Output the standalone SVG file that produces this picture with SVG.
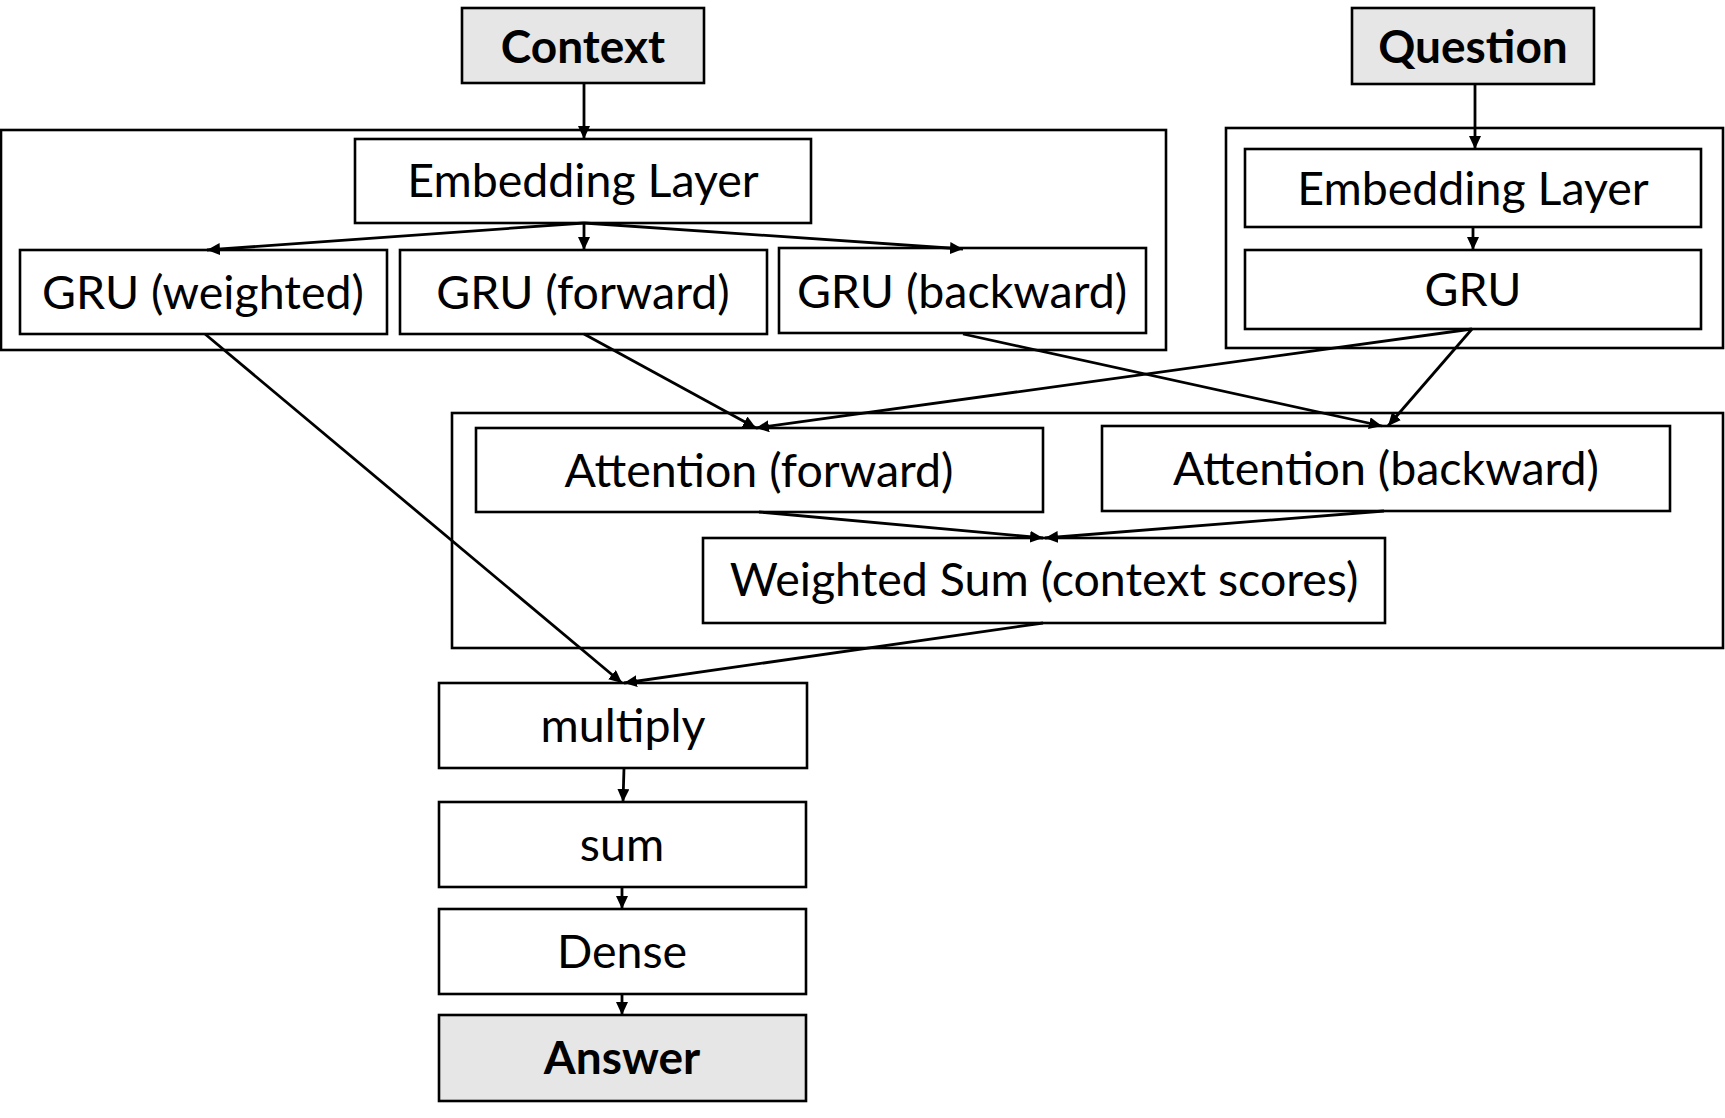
<svg xmlns="http://www.w3.org/2000/svg" width="1725" height="1118" viewBox="0 0 1725 1118">
<style>
.box{fill:#fff;stroke:#000;stroke-width:2.6}
.io{fill:#e6e6e6;stroke:#000;stroke-width:2.6}
.grp{fill:none;stroke:#000;stroke-width:2.6}
.t{font-family:Lato,"Open Sans","Noto Sans",sans-serif;font-size:46.5px;text-anchor:middle;fill:#000}
.b{font-family:Lato,"Open Sans","Noto Sans",sans-serif;font-size:46px;font-weight:bold;text-anchor:middle;fill:#000}
.c{stroke:#000;stroke-width:2.8;fill:none;marker-end:url(#ah)}
</style>
<defs>
<marker id="ah" markerUnits="userSpaceOnUse" markerWidth="14" markerHeight="12" refX="13" refY="6" orient="auto">
<path d="M0,0 L13,6 L0,12 Z" fill="#000"/>
</marker>
</defs>
<rect id="group-context" class="grp" x="1" y="130" width="1165" height="220"/>
<rect id="group-question" class="grp" x="1226" y="128" width="497" height="220"/>
<rect id="group-attention" class="grp" x="452" y="413" width="1271" height="235"/>
<g id="context"><rect class="io" x="462" y="8" width="242" height="75"/><text class="b" x="583" y="63">Context</text></g>
<g id="question"><rect class="io" x="1352" y="8" width="242" height="76"/><text class="b" x="1473" y="63">Question</text></g>
<g id="emb-c"><rect class="box" x="355" y="139" width="456" height="84"/><text class="t" x="583" y="197">Embedding Layer</text></g>
<g id="gru-w"><rect class="box" x="20" y="250" width="367" height="84"/><text class="t" x="203" y="309">GRU (weighted)</text></g>
<g id="gru-f"><rect class="box" x="400" y="250" width="367" height="84"/><text class="t" x="583" y="309">GRU (forward)</text></g>
<g id="gru-b"><rect class="box" x="779" y="248" width="367" height="85"/><text class="t" x="962" y="308">GRU (backward)</text></g>
<g id="emb-q"><rect class="box" x="1245" y="149" width="456" height="78"/><text class="t" x="1473" y="205">Embedding Layer</text></g>
<g id="gru-q"><rect class="box" x="1245" y="250" width="456" height="79"/><text class="t" x="1473" y="306">GRU</text></g>
<g id="att-f"><rect class="box" x="476" y="428" width="567" height="84"/><text class="t" x="759" y="487">Attention (forward)</text></g>
<g id="att-b"><rect class="box" x="1102" y="426" width="568" height="85"/><text class="t" x="1386" y="485">Attention (backward)</text></g>
<g id="wsum"><rect class="box" x="703" y="538" width="682" height="85"/><text class="t" x="1044" y="596">Weighted Sum (context scores)</text></g>
<g id="multiply"><rect class="box" x="439" y="683" width="368" height="85"/><text class="t" x="623" y="742">multiply</text></g>
<g id="sum"><rect class="box" x="439" y="802" width="367" height="85"/><text class="t" x="622" y="861">sum</text></g>
<g id="dense"><rect class="box" x="439" y="909" width="367" height="85"/><text class="t" x="622" y="968">Dense</text></g>
<g id="answer"><rect class="io" x="439" y="1015" width="367" height="86"/><text class="b" x="622" y="1074">Answer</text></g>
<g id="connectors">
<line class="c" x1="584" y1="83" x2="584" y2="139"/>
<line class="c" x1="584" y1="223" x2="207" y2="250"/>
<line class="c" x1="584" y1="223" x2="584" y2="250"/>
<line class="c" x1="584" y1="223" x2="963" y2="249"/>
<line class="c" x1="1475" y1="84" x2="1475" y2="149"/>
<line class="c" x1="1473" y1="227" x2="1473" y2="250"/>
<line class="c" x1="205" y1="334" x2="622" y2="683"/>
<line class="c" x1="584" y1="334" x2="756" y2="428"/>
<line class="c" x1="963" y1="334" x2="1382" y2="426"/>
<line class="c" x1="1472" y1="329" x2="756" y2="428"/>
<line class="c" x1="1472" y1="329" x2="1388" y2="426"/>
<line class="c" x1="759" y1="512" x2="1043" y2="538"/>
<line class="c" x1="1384" y1="511" x2="1045" y2="538"/>
<line class="c" x1="1043" y1="623" x2="624" y2="683"/>
<line class="c" x1="624" y1="768" x2="623" y2="802"/>
<line class="c" x1="622" y1="887" x2="622" y2="909"/>
<line class="c" x1="622" y1="994" x2="622" y2="1015"/>
</g>
</svg>
